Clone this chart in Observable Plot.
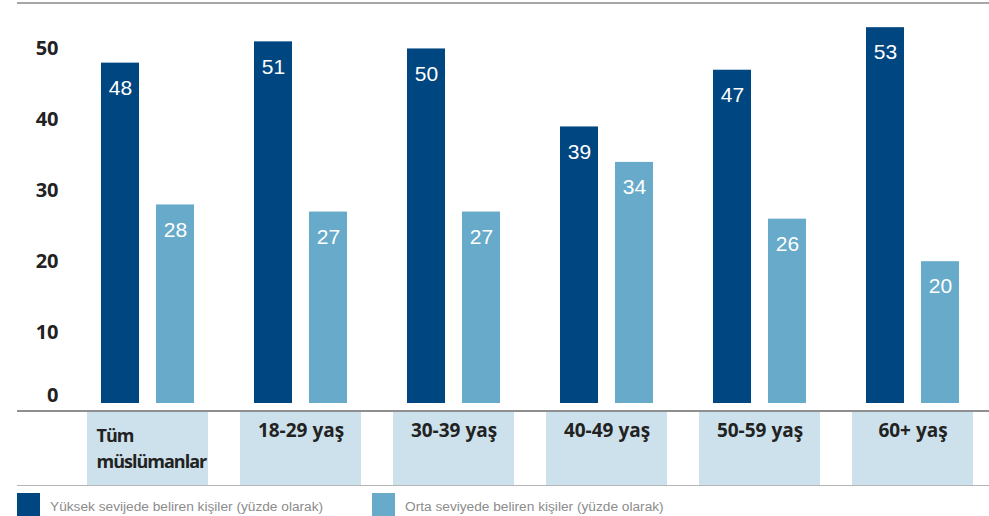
<!DOCTYPE html>
<html>
<head>
<meta charset="utf-8">
<script src="https://cdn.jsdelivr.net/npm/d3@7"></script>
<script src="https://cdn.jsdelivr.net/npm/@observablehq/plot@0.6"></script>
<style>
  html, body { margin: 0; padding: 0; background: #fff; }
  #wrap { position: relative; width: 989px; height: 516px; overflow: hidden; }
  .abs { position: absolute; }
  .legend-item { position: absolute; top: 493px; display: flex; align-items: flex-start; }
  .sw { width: 23px; height: 26px; }
  .lt { font-family: "Liberation Sans", sans-serif; font-size: 13.7px; color: #8c8c8c; margin-left: 10px; margin-top: 6px; white-space: nowrap; }
</style>
</head>
<body>
<div id="wrap">
  <div class="abs" style="left:17px; top:2px; width:972px; height:2px; background:#a6a6a6;"></div>
  <div id="chart" class="abs" style="left:0; top:0;"></div>
  <div id="bands" class="abs" style="left:0; top:412px;"></div>
  <div class="abs" style="left:17px; top:410px; width:972px; height:2px; background:#8f8f8f;"></div>
  <div class="abs" style="left:17px; top:485px; width:972px; height:1px; background:#b5b5b5;"></div>
  <div id="legend"></div>
</div>
<script>
const categories = ["Tüm\nmüslümanlar", "18-29 yaş", "30-39 yaş", "40-49 yaş", "50-59 yaş", "60+ yaş"];
const seriesNames = ["Yüksek sevijede beliren kişiler (yüzde olarak)", "Orta seviyede beliren kişiler (yüzde olarak)"];
const highValues = [48, 51, 50, 39, 47, 53];
const midValues = [28, 27, 27, 34, 26, 20];
const yTicks = [0, 10, 20, 30, 40, 50];
const colors = ["#004680", "#67aac9"];
const bandColor = "#cce1eb";

const high = categories.map((c, i) => ({cat: c, value: highValues[i]}));
const mid = categories.map((c, i) => ({cat: c, value: midValues[i]}));

const xScale = {type: "band", domain: categories, range: [86, 974], paddingInner: 0.21, paddingOuter: 0, axis: null};
const tickStyle = {tickSize: 0, tickPadding: 0, dx: 41, fontSize: 20, fontWeight: 700, fill: "#222",
  fontFamily: "'Open Sans', sans-serif", label: null, tickFormat: d => d};
const valueFont = "'Liberation Sans', sans-serif";

const chart = Plot.plot({
  width: 989,
  height: 412,
  marginLeft: 17,
  marginRight: 0,
  marginTop: 13,
  marginBottom: 9,
  x: xScale,
  y: {domain: [0, 55], axis: null},
  style: {background: "transparent", overflow: "visible"},
  marks: [
    Plot.axisY({...tickStyle, ticks: yTicks.filter(t => t > 0)}),
    Plot.axisY({...tickStyle, ticks: yTicks.filter(t => t === 0), dy: -8}),
    Plot.barY(high, {x: "cat", y: "value", fill: colors[0], insetLeft: 14, insetRight: 69}),
    Plot.barY(mid, {x: "cat", y: "value", fill: colors[1], insetLeft: 69, insetRight: 14}),
    Plot.text(high, {x: "cat", y: "value", text: d => String(d.value), dx: -27.5, dy: 25, fill: "white",
      fontSize: 21, fontFamily: valueFont}),
    Plot.text(mid, {x: "cat", y: "value", text: d => String(d.value), dx: 27.5, dy: 25, fill: "white",
      fontSize: 21, fontFamily: valueFont})
  ]
});
document.getElementById("chart").appendChild(chart);

const bands = Plot.plot({
  width: 989,
  height: 73,
  margin: 0,
  x: xScale,
  y: {domain: [0, 1], axis: null},
  style: {background: "transparent", overflow: "visible"},
  marks: [
    Plot.barY(categories, {x: d => d, y1: 0, y2: 1, fill: bandColor}),
    Plot.text(categories.slice(0, 1), {x: d => d, text: d => d, frameAnchor: "top", textAnchor: "start", lineAnchor: "top",
      dx: -51.5, dy: 11, fontSize: 18, fontWeight: 700, fill: "#222", lineHeight: 1.45, fontFamily: "'Open Sans', sans-serif"}),
    Plot.text(categories.slice(1), {x: d => d, text: d => d, frameAnchor: "top", lineAnchor: "top",
      dy: 11, fontSize: 19, fontWeight: 700, fill: "#222", fontFamily: "'Open Sans', sans-serif"})
  ]
});
// tighten the two-line first label to match the condensed original
bands.querySelectorAll("text").forEach(t => {
  if (t.textContent.includes("müslümanlar")) t.setAttribute("letter-spacing", "-1");
});
document.getElementById("bands").appendChild(bands);

const legend = document.getElementById("legend");
const lefts = [17, 372];
seriesNames.forEach((name, i) => {
  const item = document.createElement("div");
  item.className = "legend-item";
  item.style.left = lefts[i] + "px";
  item.innerHTML = `<div class="sw" style="background:${colors[i]}"></div><div class="lt">${name}</div>`;
  legend.appendChild(item);
});
</script>
</body>
</html>
